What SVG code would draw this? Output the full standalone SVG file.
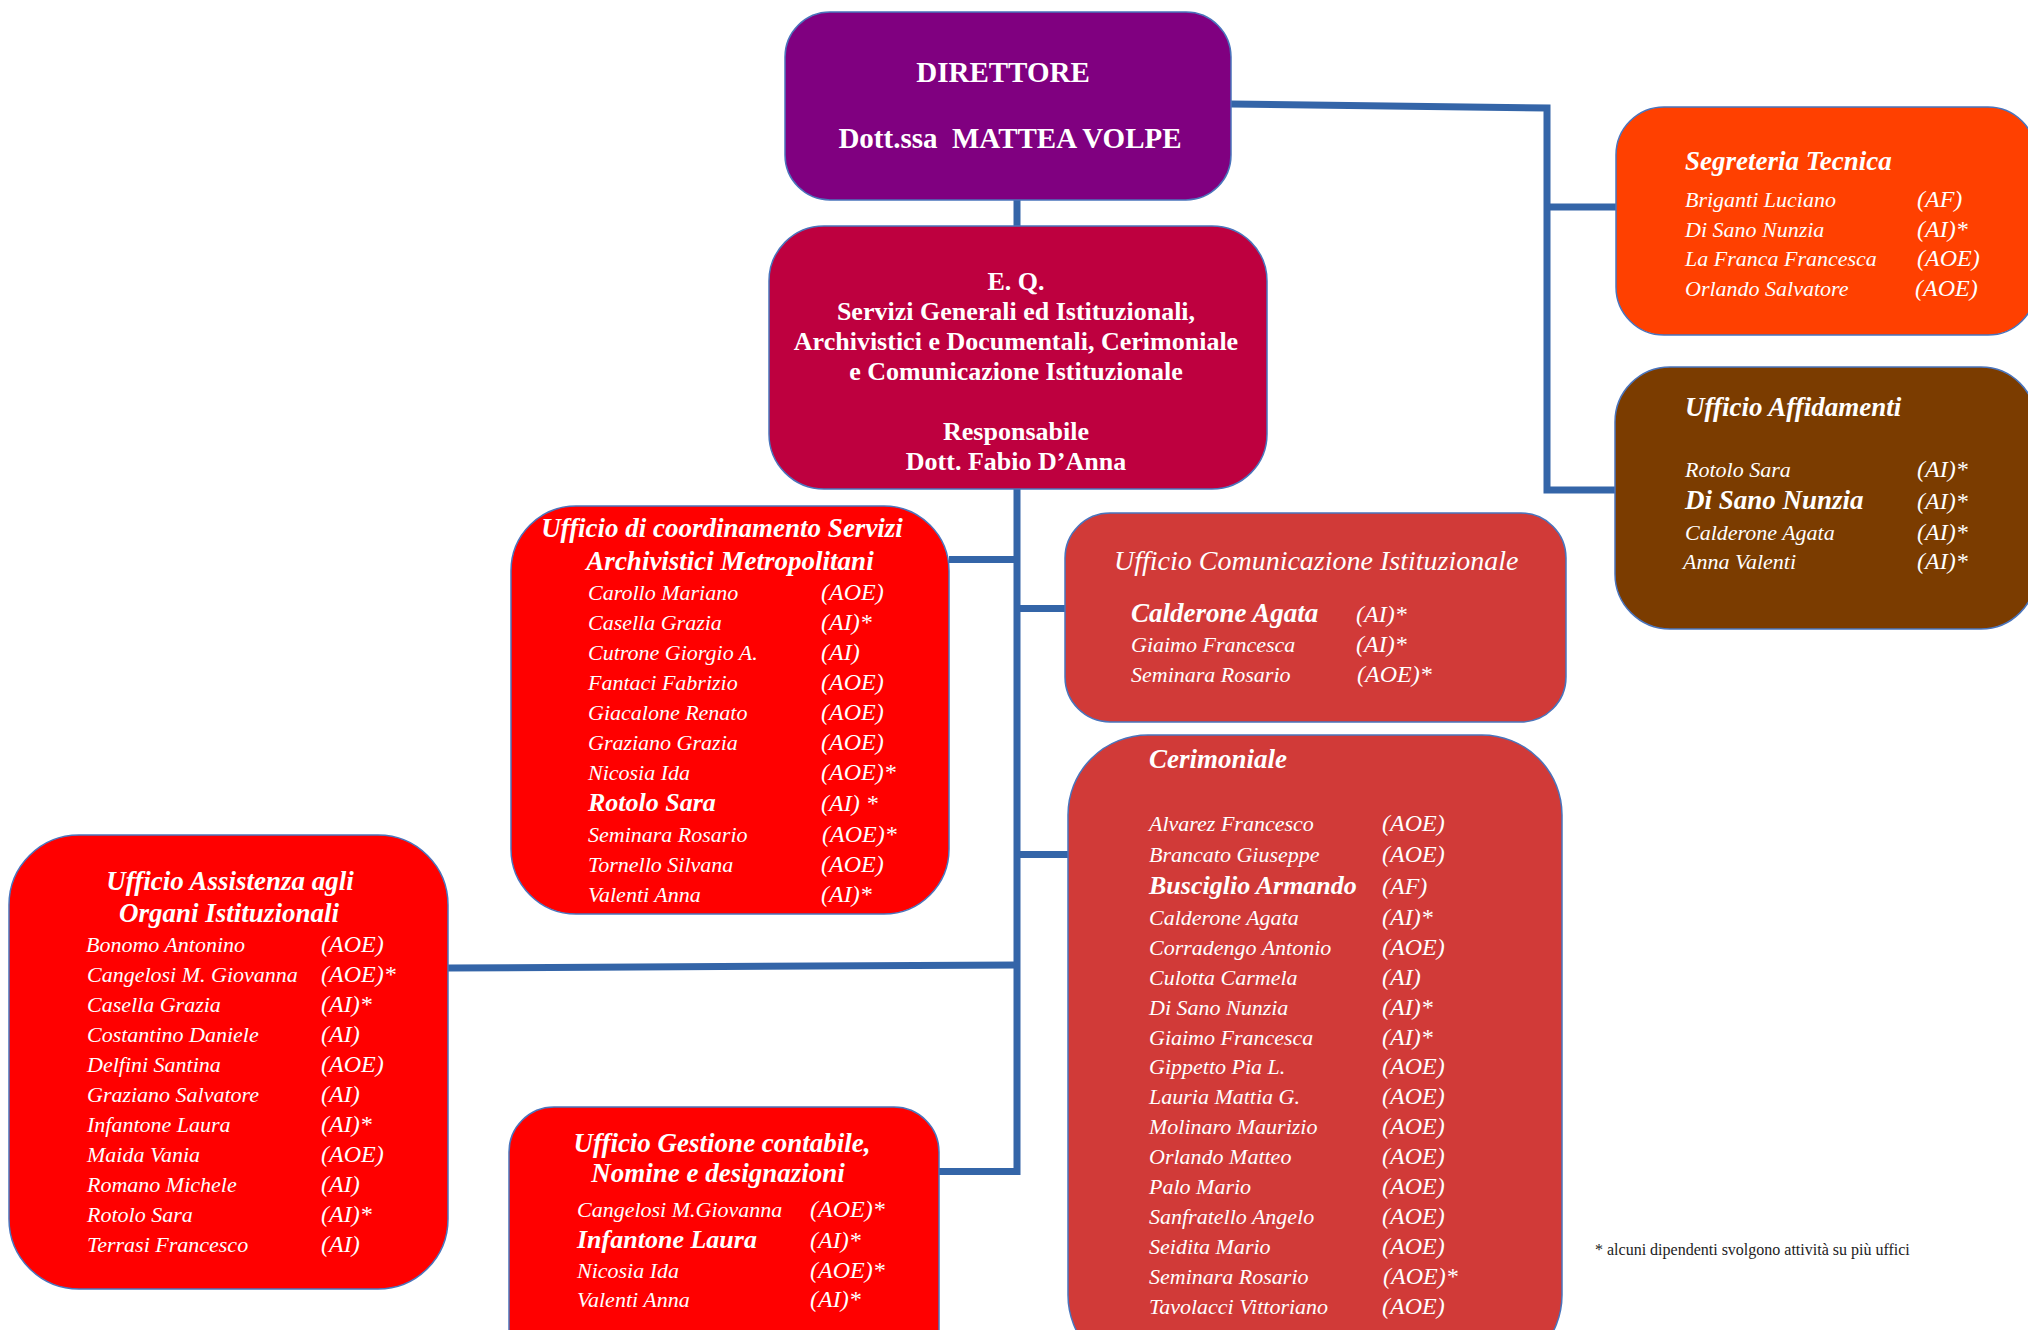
<svg xmlns="http://www.w3.org/2000/svg" width="2028" height="1330" viewBox="0 0 2028 1330">
<style>
text { font-family: "Liberation Serif", "Times New Roman", serif; fill: #ffffff; }
.hd { font-weight: bold; font-size: 29px; text-anchor: middle; white-space: pre; }
.eq { font-weight: bold; font-size: 26px; text-anchor: middle; }
.t { font-style: italic; font-weight: bold; font-size: 27px; }
.tc { font-style: italic; font-weight: bold; font-size: 27px; text-anchor: middle; }
.ti { font-style: italic; font-size: 28px; }
.n { font-style: italic; font-size: 22px; }
.c { font-style: italic; font-size: 24px; }
.b { font-style: italic; font-weight: bold; font-size: 26px; }
.fn { font-size: 16px; fill: #222222; }
.box { stroke: #4A74BC; stroke-width: 1.5; }
.conn { stroke: #3465A8; stroke-width: 7; fill: none; stroke-linejoin: miter; }
</style>

<g id="connectors">
  <path class="conn" d="M1017 200 V226"/>
  <path class="conn" d="M1017 489 V1171.5 H938"/>
  <path class="conn" d="M949 559.5 H1017"/>
  <path class="conn" d="M1017 608.5 H1065"/>
  <path class="conn" d="M1017 854.5 H1068"/>
  <path class="conn" d="M448 968 L1017 965"/>
  <path class="conn" d="M1231 104 L1547 108 V490 H1615"/>
  <path class="conn" d="M1547 207 H1616"/>
</g>

<g id="direttore">
  <rect class="box" x="785" y="12" width="446" height="188" rx="45" fill="#800080"/>
  <text class="hd" x="1003" y="82">DIRETTORE</text>
  <text class="hd" x="1010" y="148">Dott.ssa  MATTEA VOLPE</text>
</g>

<g id="eq">
  <rect class="box" x="769" y="226" width="498" height="263" rx="55" fill="#BE003F"/>
  <text class="eq" x="1016" y="290">E. Q.</text>
  <text class="eq" x="1016" y="320">Servizi Generali ed Istituzionali,</text>
  <text class="eq" x="1016" y="350">Archivistici e Documentali, Cerimoniale</text>
  <text class="eq" x="1016" y="380">e Comunicazione Istituzionale</text>
  <text class="eq" x="1016" y="440">Responsabile</text>
  <text class="eq" x="1016" y="470">Dott. Fabio D’Anna</text>
</g>

<g id="segreteria-tecnica">
  <rect class="box" x="1616" y="107" width="420" height="228" rx="48" fill="#FF4000"/>
  <text class="t" x="1685" y="170">Segreteria Tecnica</text>
  <text class="n" x="1685" y="207">Briganti Luciano</text><text class="c" x="1917" y="207">(AF)</text>
  <text class="n" x="1685" y="237">Di Sano Nunzia</text><text class="c" x="1917" y="237">(AI)*</text>
  <text class="n" x="1685" y="266">La Franca Francesca</text><text class="c" x="1917" y="266">(AOE)</text>
  <text class="n" x="1685" y="296">Orlando Salvatore</text><text class="c" x="1915" y="296">(AOE)</text>
</g>

<g id="ufficio-affidamenti">
  <rect class="box" x="1615" y="367" width="421" height="262" rx="55" fill="#7B3C00"/>
  <text class="t" x="1685" y="416">Ufficio Affidamenti</text>
  <text class="n" x="1685" y="477">Rotolo Sara</text><text class="c" x="1917" y="477">(AI)*</text>
  <text class="b" x="1685" y="509" style="font-size:27px">Di Sano Nunzia</text><text class="c" x="1917" y="509">(AI)*</text>
  <text class="n" x="1685" y="540">Calderone Agata</text><text class="c" x="1917" y="540">(AI)*</text>
  <text class="n" x="1683" y="569">Anna Valenti</text><text class="c" x="1917" y="569">(AI)*</text>
</g>

<g id="ufficio-coordinamento">
  <rect class="box" x="511" y="506" width="438" height="408" rx="65" fill="#FF0000"/>
  <text class="tc" x="722" y="537">Ufficio di coordinamento Servizi</text>
  <text class="tc" x="730" y="570">Archivistici Metropolitani</text>
  <text class="n" x="588" y="600">Carollo Mariano</text><text class="c" x="821" y="600">(AOE)</text>
  <text class="n" x="588" y="630">Casella Grazia</text><text class="c" x="821" y="630">(AI)*</text>
  <text class="n" x="588" y="660">Cutrone Giorgio A.</text><text class="c" x="821" y="660">(AI)</text>
  <text class="n" x="588" y="690">Fantaci Fabrizio</text><text class="c" x="821" y="690">(AOE)</text>
  <text class="n" x="588" y="720">Giacalone Renato</text><text class="c" x="821" y="720">(AOE)</text>
  <text class="n" x="588" y="750">Graziano Grazia</text><text class="c" x="821" y="750">(AOE)</text>
  <text class="n" x="588" y="780">Nicosia Ida</text><text class="c" x="821" y="780">(AOE)*</text>
  <text class="b" x="588" y="811">Rotolo Sara</text><text class="c" x="821" y="811">(AI) *</text>
  <text class="n" x="588" y="842">Seminara Rosario</text><text class="c" x="822" y="842">(AOE)*</text>
  <text class="n" x="588" y="872">Tornello Silvana</text><text class="c" x="821" y="872">(AOE)</text>
  <text class="n" x="588" y="902">Valenti Anna</text><text class="c" x="821" y="902">(AI)*</text>
</g>

<g id="ufficio-comunicazione">
  <rect class="box" x="1065" y="513" width="501" height="209" rx="45" fill="#D13A38"/>
  <text class="ti" x="1114" y="570">Ufficio Comunicazione Istituzionale</text>
  <text class="b" x="1131" y="622" style="font-size:27px">Calderone Agata</text><text class="c" x="1356" y="622">(AI)*</text>
  <text class="n" x="1131" y="652">Giaimo Francesca</text><text class="c" x="1356" y="652">(AI)*</text>
  <text class="n" x="1131" y="682">Seminara Rosario</text><text class="c" x="1357" y="682">(AOE)*</text>
</g>

<g id="cerimoniale">
  <rect class="box" x="1068" y="735" width="494" height="640" rx="80" fill="#D13A38"/>
  <text class="t" x="1149" y="768">Cerimoniale</text>
  <text class="n" x="1149" y="831">Alvarez Francesco</text><text class="c" x="1382" y="831">(AOE)</text>
  <text class="n" x="1149" y="862">Brancato Giuseppe</text><text class="c" x="1382" y="862">(AOE)</text>
  <text class="b" x="1149" y="894">Busciglio Armando</text><text class="c" x="1382" y="894">(AF)</text>
  <text class="n" x="1149" y="925">Calderone Agata</text><text class="c" x="1382" y="925">(AI)*</text>
  <text class="n" x="1149" y="955">Corradengo Antonio</text><text class="c" x="1382" y="955">(AOE)</text>
  <text class="n" x="1149" y="985">Culotta Carmela</text><text class="c" x="1382" y="985">(AI)</text>
  <text class="n" x="1149" y="1015">Di Sano Nunzia</text><text class="c" x="1382" y="1015">(AI)*</text>
  <text class="n" x="1149" y="1045">Giaimo Francesca</text><text class="c" x="1382" y="1045">(AI)*</text>
  <text class="n" x="1149" y="1074">Gippetto Pia L.</text><text class="c" x="1382" y="1074">(AOE)</text>
  <text class="n" x="1149" y="1104">Lauria Mattia G.</text><text class="c" x="1382" y="1104">(AOE)</text>
  <text class="n" x="1149" y="1134">Molinaro Maurizio</text><text class="c" x="1382" y="1134">(AOE)</text>
  <text class="n" x="1149" y="1164">Orlando Matteo</text><text class="c" x="1382" y="1164">(AOE)</text>
  <text class="n" x="1149" y="1194">Palo Mario</text><text class="c" x="1382" y="1194">(AOE)</text>
  <text class="n" x="1149" y="1224">Sanfratello Angelo</text><text class="c" x="1382" y="1224">(AOE)</text>
  <text class="n" x="1149" y="1254">Seidita Mario</text><text class="c" x="1382" y="1254">(AOE)</text>
  <text class="n" x="1149" y="1284">Seminara Rosario</text><text class="c" x="1383" y="1284">(AOE)*</text>
  <text class="n" x="1149" y="1314">Tavolacci Vittoriano</text><text class="c" x="1382" y="1314">(AOE)</text>
</g>

<g id="ufficio-assistenza">
  <rect class="box" x="9" y="835" width="439" height="454" rx="70" fill="#FF0000"/>
  <text class="tc" x="230" y="890">Ufficio Assistenza agli</text>
  <text class="tc" x="229" y="922">Organi Istituzionali</text>
  <text class="n" x="86" y="952">Bonomo Antonino</text><text class="c" x="321" y="952">(AOE)</text>
  <text class="n" x="87" y="982">Cangelosi M. Giovanna</text><text class="c" x="321" y="982">(AOE)*</text>
  <text class="n" x="87" y="1012">Casella Grazia</text><text class="c" x="321" y="1012">(AI)*</text>
  <text class="n" x="87" y="1042">Costantino Daniele</text><text class="c" x="321" y="1042">(AI)</text>
  <text class="n" x="87" y="1072">Delfini Santina</text><text class="c" x="321" y="1072">(AOE)</text>
  <text class="n" x="87" y="1102">Graziano Salvatore</text><text class="c" x="321" y="1102">(AI)</text>
  <text class="n" x="87" y="1132">Infantone Laura</text><text class="c" x="321" y="1132">(AI)*</text>
  <text class="n" x="87" y="1162">Maida Vania</text><text class="c" x="321" y="1162">(AOE)</text>
  <text class="n" x="87" y="1192">Romano Michele</text><text class="c" x="321" y="1192">(AI)</text>
  <text class="n" x="87" y="1222">Rotolo Sara</text><text class="c" x="321" y="1222">(AI)*</text>
  <text class="n" x="87" y="1252">Terrasi Francesco</text><text class="c" x="321" y="1252">(AI)</text>
</g>

<g id="ufficio-gestione">
  <rect class="box" x="509" y="1107" width="430" height="270" rx="45" fill="#FF0000"/>
  <text class="tc" x="722" y="1152">Ufficio Gestione contabile,</text>
  <text class="tc" x="718" y="1182">Nomine e designazioni</text>
  <text class="n" x="577" y="1217">Cangelosi M.Giovanna</text><text class="c" x="810" y="1217">(AOE)*</text>
  <text class="b" x="577" y="1248">Infantone Laura</text><text class="c" x="810" y="1248">(AI)*</text>
  <text class="n" x="577" y="1278">Nicosia Ida</text><text class="c" x="810" y="1278">(AOE)*</text>
  <text class="n" x="577" y="1307">Valenti Anna</text><text class="c" x="810" y="1307">(AI)*</text>
</g>

<g id="footnote">
  <text class="fn" x="1595" y="1255">* alcuni dipendenti svolgono attività su più uffici</text>
</g>
</svg>
